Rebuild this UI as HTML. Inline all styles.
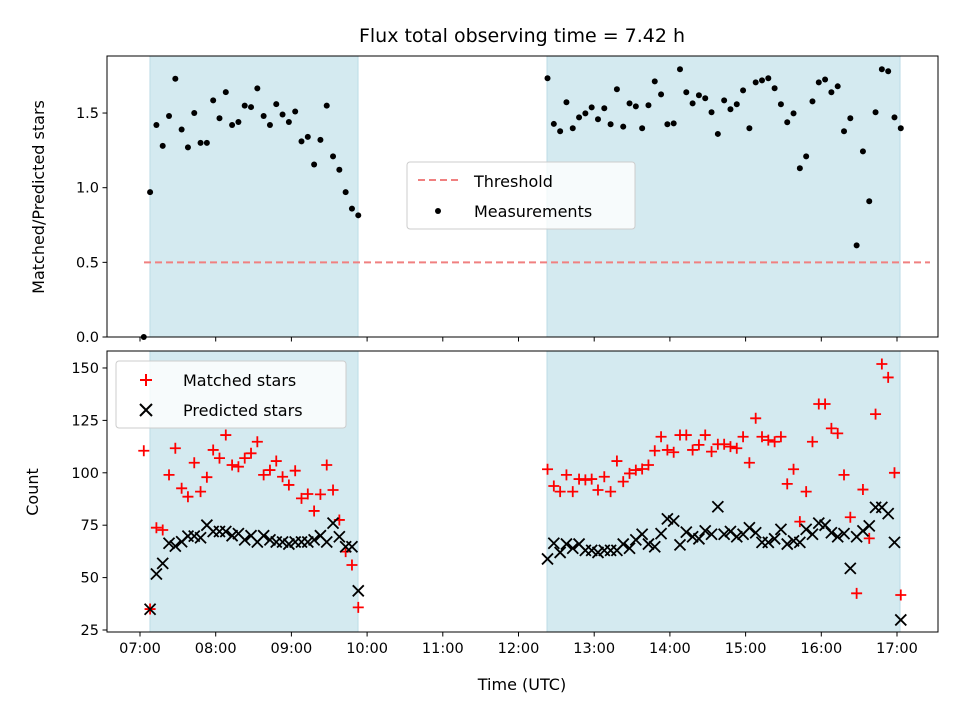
<!DOCTYPE html>
<html><head><meta charset="utf-8"><style>
body{margin:0;background:#fff;}
svg{display:block;font-family:"DejaVu Sans","Liberation Sans",sans-serif;}
</style></head><body>
<svg id="c" width="960" height="720" viewBox="0 0 960 720"></svg>
<script>
const leftStart = 3, rightStart = 323, stepMin = 5;
const ratioLeft = [0,0.97,1.42,1.28,1.48,1.73,1.39,1.27,1.50,1.30,1.30,1.585,1.465,1.64,1.42,1.44,1.55,1.54,1.665,1.48,1.42,1.56,1.49,1.44,1.51,1.31,1.34,1.155,1.32,1.55,1.21,1.12,0.97,0.86,0.815];
const ratioRight = [1.733,1.427,1.378,1.572,1.398,1.471,1.498,1.538,1.458,1.532,1.425,1.659,1.409,1.565,1.545,1.398,1.552,1.712,1.625,1.425,1.431,1.793,1.639,1.565,1.619,1.599,1.505,1.36,1.585,1.525,1.559,1.652,1.398,1.705,1.719,1.733,1.666,1.559,1.438,1.498,1.13,1.21,1.578,1.705,1.725,1.639,1.679,1.378,1.465,0.614,1.243,0.909,1.505,1.793,1.78,1.471,1.398];
const matchedLeft = [110.5,35,73.8,72.7,99,111.7,92.6,88.6,104.8,91,97.9,110.9,107,118,103.7,102.9,107,109.3,114.8,99,101.3,105.6,98.1,94.2,101,87.8,89.9,81.8,89.7,103.7,91.8,77.5,62.4,56,35.8];
const predictedLeft = [null,34.9,51.7,56.8,66.4,65,67.1,69.8,69.8,69,75,72,72,72,70,71,68,70,67,70,68,67,67,66,67,67,67,68,70,67,76,69.5,64.7,64.7,43.7];
const matchedRight = [101.7,93.7,91,99,91,97,96.6,97,91.8,98.1,91,105.6,95.8,99.7,101.3,101.8,103.7,110.5,117.2,110.9,109.8,118,118,110.9,113.3,118,110.1,113.6,113.6,112.5,111.7,117.2,104.8,126,117.2,115.6,114.8,117.2,94.7,101.7,76.7,91,114.8,132.8,132.8,121.2,118.8,99,78.8,42.5,92,68.7,128,151.9,145.5,100,41.7];
const predictedRight = [58.9,66.4,62,66,64,66,63,63,62,63,63,63,66,64,68,70.7,66,64.7,71,78,77,65.6,71.7,69.5,68.5,72.3,70.7,83.8,70.7,72,69.5,70.7,73.8,71.4,66.8,66.8,68.5,73,66,67.5,66.8,73,70.7,76,75,71.4,69.5,71,54.4,69.5,72.3,74.7,83.5,83.5,80.5,66.8,29.8];
const hourLabels = ["07:00","08:00","09:00","10:00","11:00","12:00","13:00","14:00","15:00","16:00","17:00"];
const ratioTicks = [0,0.5,1.0,1.5];
const countTicks = [25,50,75,100,125,150];
const threshold = 0.5;
const spans = [[7.9,172.8],[322.6,602.4]];

const NS="http://www.w3.org/2000/svg";
const svg=document.getElementById('c');
function mk(tag,attrs,parent){const e=document.createElementNS(NS,tag);for(const k in attrs)e.setAttribute(k,attrs[k]);(parent||svg).appendChild(e);return e;}
const X0=107,X1=938;
const xs=m=>140+m*(757/600);
const T={top:56,bot:337,min:0,max:1.882};
const B={top:351,bot:632,min:24.05,max:158.1};
const ys=(ax,v)=>ax.bot-(v-ax.min)/(ax.max-ax.min)*(ax.bot-ax.top);

function frame(ax,name){
  const g=mk('g',{});
  
  
  spans.forEach((s,i)=>{
    const r=mk('rect',{x:xs(s[0]),y:ax.top,width:xs(s[1])-xs(s[0]),height:ax.bot-ax.top,fill:'#d4eaf0',stroke:'#bcdce6','stroke-width':1},g);
    
    
  });
  return g;
}
function border(ax,name){
  const r=mk('rect',{x:X0,y:ax.top,width:X1-X0,height:ax.bot-ax.top,fill:'none',stroke:'#000','stroke-width':1});
  
  
  hourLabels.forEach((h,i)=>{
    const x=xs(i*60);
    mk('line',{x1:x,x2:x,y1:ax.bot,y2:ax.bot+4.5,stroke:'#000','stroke-width':1});
  });
}
function yaxis(ax,ticks,fmt,name){
  ticks.forEach(t=>{
    const y=ys(ax,t);
    mk('line',{x1:X0-4.5,x2:X0,y1:y,y2:y,stroke:'#000','stroke-width':1});
    const tx=mk('text',{x:X0-8,y:y+5,'text-anchor':'end','font-size':14.5,fill:'#000'});
    tx.textContent=fmt(t);
    
    
  });
}

frame(T,'ratio');
const thr=mk('line',{x1:144,x2:930,y1:ys(T,threshold),y2:ys(T,threshold),stroke:'#f08080','stroke-width':2,'stroke-dasharray':'7,4'});


function dots(arr,start){
  arr.forEach((v,i)=>{
    if(v===null)return;
    const d=mk('circle',{cx:xs(start+i*stepMin),cy:ys(T,v),r:3,fill:'#000'});
    
    
  });
}
dots(ratioLeft,leftStart);dots(ratioRight,rightStart);
border(T,'ratio');
yaxis(T,ratioTicks,t=>t.toFixed(1),'ratio-y');

frame(B,'count');
function plus(arr,start){
  arr.forEach((v,i)=>{
    if(v===null)return;
    const x=xs(start+i*stepMin),y=ys(B,v);
    const p=mk('path',{d:`M${x-5.5} ${y}H${x+5.5}M${x} ${y-5.5}V${y+5.5}`,stroke:'#ff0000','stroke-width':1.8});
    
    
  });
}
function cross(arr,start){
  arr.forEach((v,i)=>{
    if(v===null)return;
    const x=xs(start+i*stepMin),y=ys(B,v);
    const p=mk('path',{d:`M${x-5.5} ${y-5.5}L${x+5.5} ${y+5.5}M${x-5.5} ${y+5.5}L${x+5.5} ${y-5.5}`,stroke:'#000','stroke-width':1.8});
    
    
  });
}
plus(matchedLeft,leftStart);plus(matchedRight,rightStart);
cross(predictedLeft,leftStart);cross(predictedRight,rightStart);
border(B,'count');
yaxis(B,countTicks,t=>String(t),'count-y');
hourLabels.forEach((h,i)=>{
  const t=mk('text',{x:xs(i*60),y:B.bot+21,'text-anchor':'middle','font-size':14.5,fill:'#000'});
  t.textContent=h;
  
  
});
</script>
<svg width="960" height="720" style="position:absolute;left:0;top:0">
<text x="522" y="42" text-anchor="middle" font-size="19" font-family="DejaVu Sans,Liberation Sans,sans-serif">Flux total observing time = 7.42 h</text>
<text transform="translate(44,197) rotate(-90)" text-anchor="middle" font-size="16" font-family="DejaVu Sans,Liberation Sans,sans-serif">Matched/Predicted stars</text>
<text transform="translate(38,492) rotate(-90)" text-anchor="middle" font-size="16" font-family="DejaVu Sans,Liberation Sans,sans-serif">Count</text>
<text x="522" y="690" text-anchor="middle" font-size="16" font-family="DejaVu Sans,Liberation Sans,sans-serif">Time (UTC)</text>
<g font-family="DejaVu Sans,Liberation Sans,sans-serif" font-size="16">
<rect x="407" y="162" width="228" height="67" rx="3" fill="#fff" fill-opacity="0.8" stroke="#ccc"/>
<line x1="418" x2="458" y1="180" y2="180" stroke="#f08080" stroke-width="2" stroke-dasharray="7,4"/>
<text x="474" y="187">Threshold</text>
<circle cx="438" cy="211" r="3" fill="#000"/>
<text x="474" y="217">Measurements</text>
</g>
<g font-family="DejaVu Sans,Liberation Sans,sans-serif" font-size="16">
<rect x="116" y="361" width="230" height="67" rx="3" fill="#fff" fill-opacity="0.8" stroke="#ccc"/>
<path d="M140 380H152M146 374V386" stroke="#f00" stroke-width="2"/>
<text x="183" y="386">Matched stars</text>
<path d="M140 404L152 416M140 416L152 404" stroke="#000" stroke-width="2"/>
<text x="183" y="416">Predicted stars</text>
</g>
</svg>
</body></html>
